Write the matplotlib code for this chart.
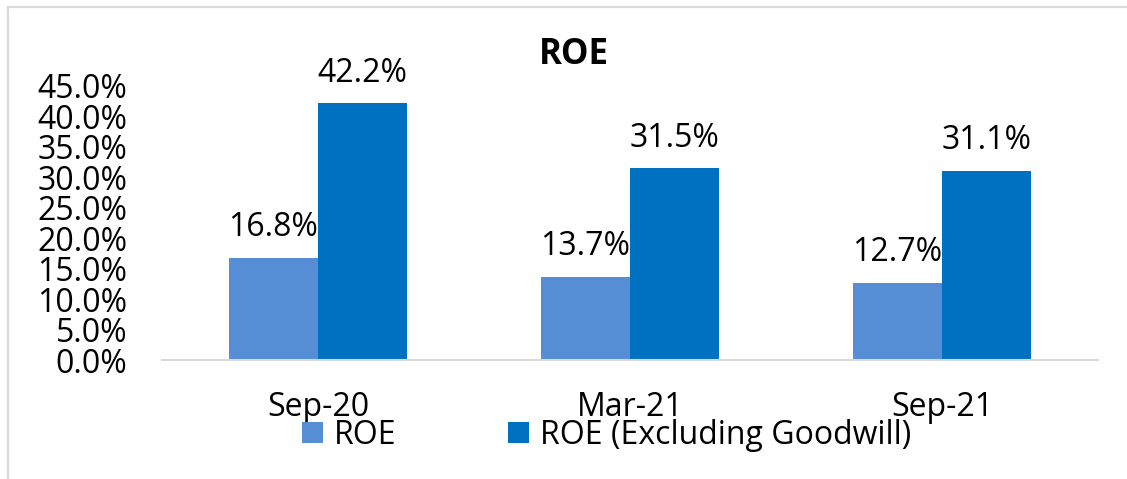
import matplotlib.pyplot as plt
import numpy as np
from matplotlib.lines import Line2D

plt.rcParams['font.family'] = ['Open Sans', 'DejaVu Sans']

periods = ['Sep-20', 'Mar-21', 'Sep-21']
roe = [16.8, 13.7, 12.7]
roe_ex_goodwill = [42.2, 31.5, 31.1]
yticks = [0, 5, 10, 15, 20, 25, 30, 35, 40, 45]

fig = plt.figure(figsize=(11.27, 4.79), dpi=100)
ax = fig.add_axes([0.1437, 0.2474, 0.8306, 0.5731])

x = np.arange(len(periods))
w = 0.285
b1 = ax.bar(x - w / 2, roe, w, color='#558ED5', label='ROE')
b2 = ax.bar(x + w / 2, roe_ex_goodwill, w, color='#0070C0', label='ROE (Excluding Goodwill)')

for bars in (b1, b2):
    for r in bars:
        ax.annotate('%.1f%%' % r.get_height(), (r.get_x() + r.get_width() / 2, r.get_height()),
                    xytext=(0, 15.5), textcoords='offset points', ha='center', va='baseline',
                    fontsize=23)

ax.set_xlim(-0.5, 2.5)
ax.set_ylim(0, 45)
ax.set_yticks(yticks)
ax.set_yticklabels(['%.1f%%' % v for v in yticks], fontsize=23, linespacing=0.9)
ax.set_xticks(x)
ax.set_xticklabels(periods, fontsize=23)
ax.tick_params(axis='y', length=0, pad=25)
ax.tick_params(axis='x', length=0, pad=22)
for s in ['top', 'right', 'left']:
    ax.spines[s].set_visible(False)
ax.spines['bottom'].set_color('#D9D9D9')
ax.spines['bottom'].set_linewidth(1.5)

fig.text(0.509, 0.885, 'ROE', ha='center', va='center', fontsize=25, fontweight='bold')

fig.legend(handles=[b1, b2], loc='center', bbox_to_anchor=(0.538, 0.091), ncol=2,
           frameon=False, fontsize=23, handlelength=0.66, handleheight=0.66,
           handletextpad=0.34, columnspacing=3.5, borderpad=0, borderaxespad=0)

# outer chart border (top and left only visible)
fig.add_artist(Line2D([8 / 1127, 1], [1 - 6.5 / 479, 1 - 6.5 / 479], color='#D9D9D9', lw=1.6,
                      transform=fig.transFigure))
fig.add_artist(Line2D([8 / 1127, 8 / 1127], [0, 1 - 6.5 / 479], color='#D9D9D9', lw=1.6,
                      transform=fig.transFigure))

fig.savefig('out.png', dpi=100)
